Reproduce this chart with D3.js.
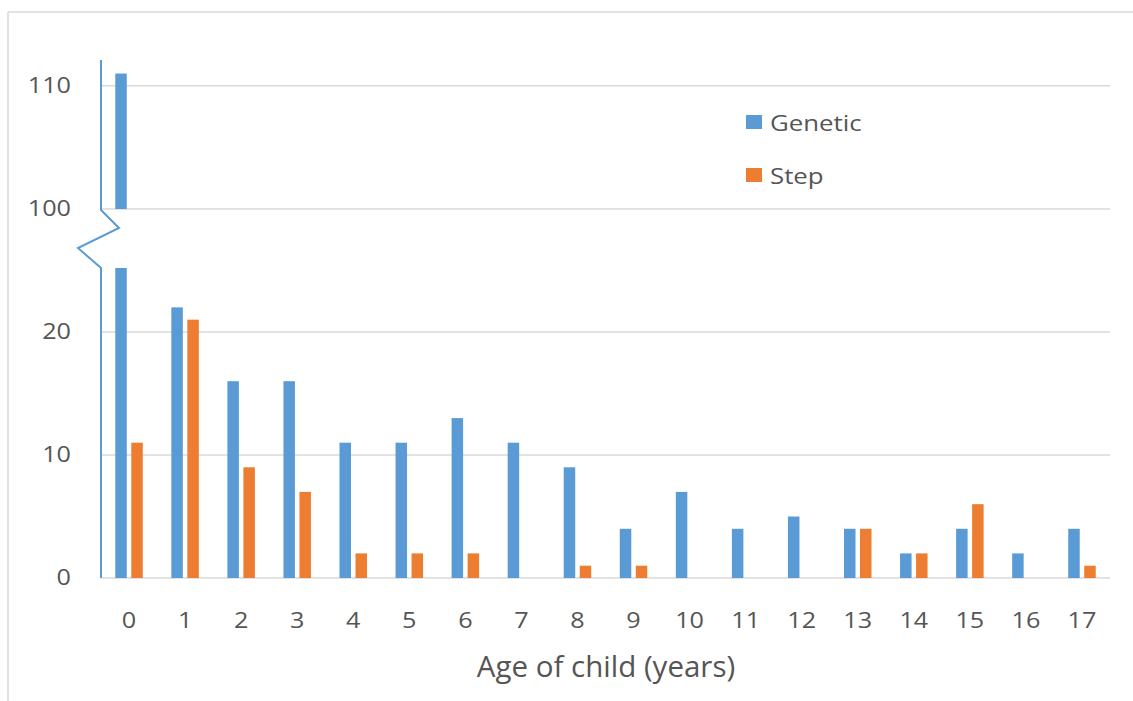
<!DOCTYPE html>
<html>
<head>
<meta charset="utf-8">
<script src="https://cdn.jsdelivr.net/npm/d3@7/dist/d3.min.js"></script>
<style>
  html, body { margin: 0; padding: 0; background: #ffffff; }
  svg { display: block; }
  text { font-family: "Open Sans", "Noto Sans", sans-serif; fill: #555555; }
</style>
</head>
<body>
<svg id="chart" width="1133" height="701"></svg>
<script>
// Number of children by age, split by genetic vs. step relationship
const ages = [0, 1, 2, 3, 4, 5, 6, 7, 8, 9, 10, 11, 12, 13, 14, 15, 16, 17];
const genetic = [111, 22, 16, 16, 11, 11, 13, 11, 9, 4, 7, 4, 5, 4, 2, 4, 2, 4];
const step = [11, 21, 9, 7, 2, 2, 2, 0, 1, 1, 0, 0, 0, 4, 2, 6, 0, 1];
const seriesNames = ["Genetic", "Step"];
const seriesColors = ["#5B9BD5", "#ED7D31"];
const lowerTicks = [0, 10, 20];
const upperTicks = [100, 110];
const lowerDomain = [0, 25.2];
const upperDomain = [100, 112.1];
const xTitle = "Age of child (years)";

const svg = d3.select("#chart");
const stretch = 1.2; // horizontal stretch applied to small labels

// outer frame (top and left edges visible)
svg.append("line").attr("x1", 8).attr("y1", 12).attr("x2", 1133).attr("y2", 12)
  .attr("stroke", "#e2e2e2").attr("stroke-width", 2);
svg.append("line").attr("x1", 8).attr("y1", 12).attr("x2", 8).attr("y2", 701)
  .attr("stroke", "#e2e2e2").attr("stroke-width", 2);

const x = d3.scaleBand().domain(ages).range([101, 1110]);
const yLow = d3.scaleLinear().domain(lowerDomain).range([578, 268]);
const yHigh = d3.scaleLinear().domain(upperDomain).range([209, 60]);

const plotLeft = x.range()[0], plotRight = x.range()[1];

// gridlines
const grid = svg.append("g");
lowerTicks.forEach(t => {
  grid.append("line").attr("x1", plotLeft).attr("x2", plotRight)
    .attr("y1", yLow(t)).attr("y2", yLow(t))
    .attr("stroke", "#d9d9d9").attr("stroke-width", 1.5);
});
upperTicks.forEach(t => {
  grid.append("line").attr("x1", plotLeft).attr("x2", plotRight)
    .attr("y1", yHigh(t)).attr("y2", yHigh(t))
    .attr("stroke", "#d9d9d9").attr("stroke-width", 1.5);
});

// bars
const barW = 11.5, gap = 4.5;
const offsets = [-(gap / 2 + barW), gap / 2];
const seriesData = [genetic, step];
const bars = svg.append("g");
seriesData.forEach((vals, si) => {
  vals.forEach((v, i) => {
    const cx = x(ages[i]) + x.bandwidth() / 2 + offsets[si];
    const lowTop = Math.min(v, lowerDomain[1]);
    if (lowTop > 0) {
      bars.append("rect")
        .attr("x", cx).attr("width", barW)
        .attr("y", yLow(lowTop)).attr("height", yLow(0) - yLow(lowTop))
        .attr("fill", seriesColors[si]);
    }
    if (v > upperDomain[0]) {
      bars.append("rect")
        .attr("x", cx).attr("width", barW)
        .attr("y", yHigh(v)).attr("height", yHigh(upperDomain[0]) - yHigh(v))
        .attr("fill", seriesColors[si]);
    }
  });
});

// broken value axis line with zigzag
const axisPath = d3.path();
axisPath.moveTo(plotLeft, yHigh(upperDomain[1]));
axisPath.lineTo(plotLeft, yHigh(upperDomain[0]) + 1);
axisPath.lineTo(plotLeft + 18, 228);
axisPath.lineTo(plotLeft - 23, 248);
axisPath.lineTo(plotLeft, yLow(lowerDomain[1]));
axisPath.lineTo(plotLeft, yLow(0));
svg.append("path").attr("d", axisPath.toString())
  .attr("fill", "none").attr("stroke", "#5B9BD5").attr("stroke-width", 2)
  .attr("stroke-linejoin", "miter");

// y tick labels
function yLabels(scale, ticks) {
  const g = svg.append("g").attr("transform", `translate(${plotLeft},0)`)
    .call(d3.axisLeft(scale).tickValues(ticks).tickSize(0).tickPadding(25));
  g.select(".domain").remove();
  g.selectAll("text")
    .attr("font-size", 21).attr("fill", "#555555")
    .attr("font-family", "'Open Sans', sans-serif")
    .attr("transform", `scale(${stretch},1)`);
  return g;
}
yLabels(yLow, lowerTicks);
yLabels(yHigh, upperTicks);

// x axis labels
const xg = svg.append("g").attr("transform", `translate(0,${yLow(0)})`)
  .call(d3.axisBottom(x).tickSize(0).tickPadding(35));
xg.select(".domain").remove();
xg.selectAll("text")
  .attr("font-size", 21).attr("fill", "#555555")
  .attr("font-family", "'Open Sans', sans-serif")
  .attr("transform", `scale(${stretch},1)`);

// axis title
svg.append("text")
  .attr("x", 606).attr("y", 677)
  .attr("text-anchor", "middle")
  .attr("font-size", 29.5)
  .text(xTitle);

// legend
const legend = svg.append("g").attr("transform", "translate(746,0)");
const legendY = [131, 184];
seriesNames.forEach((name, i) => {
  legend.append("rect")
    .attr("x", 0).attr("y", legendY[i] - 16).attr("width", 16).attr("height", 14)
    .attr("fill", seriesColors[i]);
  legend.append("text")
    .attr("transform", `translate(24,${legendY[i]}) scale(${stretch},1)`)
    .attr("font-size", 21.5)
    .text(name);
});
</script>
</body>
</html>
